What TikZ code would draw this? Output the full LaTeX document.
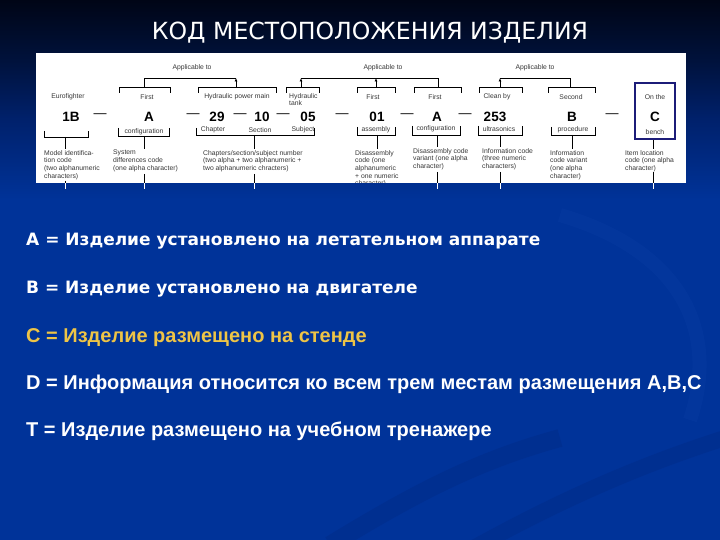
\documentclass[tikz,border=0pt]{standalone}
\usepackage{fontspec}
\setmainfont{Liberation Sans}
\newfontfamily\titlefont{DejaVu Sans}
\newfontfamily\widefont{DejaVu Sans}
\usetikzlibrary{arrows.meta}
\definecolor{bgblue}{RGB}{0,51,153}
\definecolor{bgtop}{RGB}{0,5,22}
\definecolor{bgmida}{RGB}{0,18,60}
\definecolor{bgmidb}{RGB}{0,33,108}
\definecolor{navybox}{RGB}{28,28,120}
\definecolor{gold}{RGB}{238,196,70}
\definecolor{ink}{RGB}{55,55,55}
\definecolor{swirldark}{RGB}{0,40,130}
\definecolor{swirllight}{RGB}{20,70,175}
\pgfdeclareverticalshading{bgshade}{100bp}{color(0bp)=(bgblue); color(56.5bp)=(bgblue); color(63.9bp)=(bgmidb); color(69.4bp)=(bgmida); color(75bp)=(bgtop); color(100bp)=(bgtop)}
\begin{document}
\begin{tikzpicture}[x=1pt,y=-1pt,
  sm/.style={font=\fontsize{6.8}{7.7}\selectfont, text=ink, inner sep=0pt},
  desc/.style={sm, anchor=north west, align=left},
  code/.style={font=\bfseries\fontsize{13.5}{16}\selectfont, text=black, inner sep=0pt},
  emd/.style={font=\fontsize{13}{15}\selectfont, text=black, inner sep=0pt},
  brk/.style={draw=black, line width=0.7pt},
  upar/.style={brk, -{Latex[length=3.5pt,width=3pt]}},
  wstem/.style={draw=white, line width=0.8pt},
  bul/.style={anchor=base west, inner sep=0pt, font=\widefont\bfseries\fontsize{17}{20}\selectfont, text=white},
  nbul/.style={anchor=base west, inner sep=0pt, font=\bfseries\fontsize{20}{24}\selectfont, text=white},
]
\useasboundingbox (0,0) rectangle (720,540);
\shade[shading=bgshade] (0,0) rectangle (720,540);
% faint swirls
\draw[swirldark, line width=18pt, opacity=0.35] (330,545) .. controls (420,490) and (480,460) .. (560,438);
\draw[swirldark, line width=16pt, opacity=0.35] (470,550) .. controls (560,500) and (640,465) .. (725,438);
\draw[swirllight, line width=14pt, opacity=0.18] (560,215) .. controls (680,250) and (720,330) .. (690,420);

% title
\node[font=\titlefont\fontsize{23.6}{28}\selectfont, text=white, inner sep=0pt, anchor=base] (title) at (370,40) {КОД МЕСТОПОЛОЖЕНИЯ ИЗДЕЛИЯ};

% panel
\fill[white] (36,53) rectangle (686,183);
\begin{scope}
\clip (36,53) rectangle (686,183);
% applicable to
\node[sm] (ap1) at (192,68) {Applicable to};
\node[sm] (ap2) at (383,68) {Applicable to};
\node[sm] (ap3) at (535,68) {Applicable to};
\draw[brk] (144,87) -- (144,78) -- (236,78);
\draw[upar] (236,87) -- (236,78);
\draw[brk] (301,78) -- (438,78) -- (438,87);
\draw[upar] (301,87) -- (301,78);
\draw[upar] (376,87) -- (376,78);
\draw[brk] (500,78) -- (570,78) -- (570,87);
\draw[upar] (500,87) -- (500,78);
% top brackets
\draw[brk] (119,93) -- (119,87) -- (170,87) -- (170,93);
\draw[brk] (198,93) -- (198,87) -- (276,87) -- (276,93);
\draw[brk] (286,93) -- (286,87) -- (319,87) -- (319,93);
\draw[brk] (357,93) -- (357,87) -- (395,87) -- (395,93);
\draw[brk] (414,93) -- (414,87) -- (461,87) -- (461,93);
\draw[brk] (479,93) -- (479,87) -- (522,87) -- (522,93);
\draw[brk] (548,93) -- (548,87) -- (595,87) -- (595,93);
% top labels
\node[sm] (euro) at (68,97) {Eurofighter};
\node[sm] (f1) at (147,97) {First};
\node[sm] (hpm) at (237,97) {Hydraulic power main};
\node[desc] (ht) at (289,93) {Hydraulic\\tank};
\node[sm] (f2) at (373,97) {First};
\node[sm] (f3) at (435,97) {First};
\node[sm] (cb) at (497,97) {Clean by};
\node[sm] (sec) at (571,97) {Second};
\node[sm] (onthe) at (655,97) {On the};
% codes
\node[code] (c1) at (71,117) {1B};
\node[emd] (m1) at (100,116) {—};
\node[code] (c2) at (149,117) {A};
\node[emd] (m2) at (193,116) {—};
\node[code] (c3) at (217,117) {29};
\node[emd] (m3) at (240,116) {—};
\node[code] (c4) at (262,117) {10};
\node[emd] (m4) at (283,116) {—};
\node[code] (c5) at (308,117) {05};
\node[emd] (m5) at (342,116) {—};
\node[code] (c6) at (377,117) {01};
\node[emd] (m6) at (407,116) {—};
\node[code] (c7) at (437,117) {A};
\node[emd] (m7) at (465,116) {—};
\node[code] (c8) at (495,117) {253};
\node[code] (c9) at (572,117) {B};
\node[emd] (m8) at (612,116) {—};
\node[code] (c10) at (655,117) {C};
% bottom labels
\node[sm] (cf1) at (144,131.5) {configuration};
\node[sm] (chap) at (213,129.5) {Chapter};
\node[sm] (sect) at (260,130) {Section};
\node[sm] (subj) at (303,130) {Subject};
\node[sm] (asm) at (376,130) {assembly};
\node[sm] (cf2) at (436,129) {configuration};
\node[sm] (ultra) at (499,129) {ultrasonics};
\node[sm] (proc) at (573,130) {procedure};
\node[sm] (bench) at (655,132) {bench};
% bottom brackets
\draw[brk] (44,131) -- (44,137) -- (88,137) -- (88,131);
\draw[brk] (118,128) -- (118,136) -- (169,136) -- (169,128);
\draw[brk] (196,128) -- (196,135) -- (314,135) -- (314,128);
\draw[brk] (357,127) -- (357,135) -- (395,135) -- (395,127);
\draw[brk] (412,126) -- (412,135) -- (460,135) -- (460,126);
\draw[brk] (478,126) -- (478,135) -- (522,135) -- (522,126);
\draw[brk] (551,127) -- (551,135) -- (595,135) -- (595,127);
% box round C
\draw[navybox, line width=2.6pt] (635,83) rectangle (675,139);
% descriptions
\node[desc] (d1) at (44,150) {Model identifica-\\tion code\\(two alphanumeric\\characters)};
\node[desc] (d2) at (113,150) {System\\differences code\\(one alpha character)};
\node[desc] (d3) at (203,150) {Chapters/section/subject number\\(two alpha + two alphanumeric +\\two alphanumeric chracters)};
\node[desc] (d4) at (355,150) {Disassembly\\code (one\\alphanumeric\\+ one numeric\\character)};
\node[desc] (d5) at (413,148) {Disassembly code\\variant (one alpha\\character)};
\node[desc] (d6) at (482,148) {Information code\\(three numeric\\characters)};
\node[desc] (d7) at (550,150) {Information\\code variant\\(one alpha\\character)};
\node[desc] (d8) at (625,150) {Item location\\code (one alpha\\character)};
% stems
\draw[brk] (65,137) -- (65,149);
\draw[brk] (144,136) -- (144,149);
\draw[brk] (254,135) -- (254,149);
\draw[brk] (377,135) -- (377,149);
\draw[brk] (437,135) -- (437,147);
\draw[brk] (500,135) -- (500,147);
\draw[brk] (572,135) -- (572,149);
\draw[brk] (653,140.5) -- (653,149);
\draw[brk] (65,181) -- (65,183);
\draw[brk] (144,174) -- (144,183);
\draw[brk] (254,174) -- (254,183);
\draw[brk] (437,172) -- (437,183);
\draw[brk] (500,172) -- (500,183);
\draw[brk] (653,172) -- (653,183);
\end{scope}
\draw[wstem] (65,183) -- (65,189);
\draw[wstem] (144,183) -- (144,189);
\draw[wstem] (254,183) -- (254,189);
\draw[wstem] (437,183) -- (437,189);
\draw[wstem] (500,183) -- (500,189);
\draw[wstem] (653,183) -- (653,189);

% legend lines
\node[bul] (la) at (26,245) {A = Изделие установлено на летательном аппарате};
\node[bul] (lb) at (26,293) {B = Изделие установлено на двигателе};
\node[nbul, text=gold] (lc) at (26,342) {C = Изделие размещено на стенде};
\node[nbul] (ld) at (26,389) {D = Информация относится ко всем трем местам размещения А,В,С};
\node[nbul] (lt) at (26,436) {T = Изделие размещено на учебном тренажере};
\end{tikzpicture}
\end{document}
